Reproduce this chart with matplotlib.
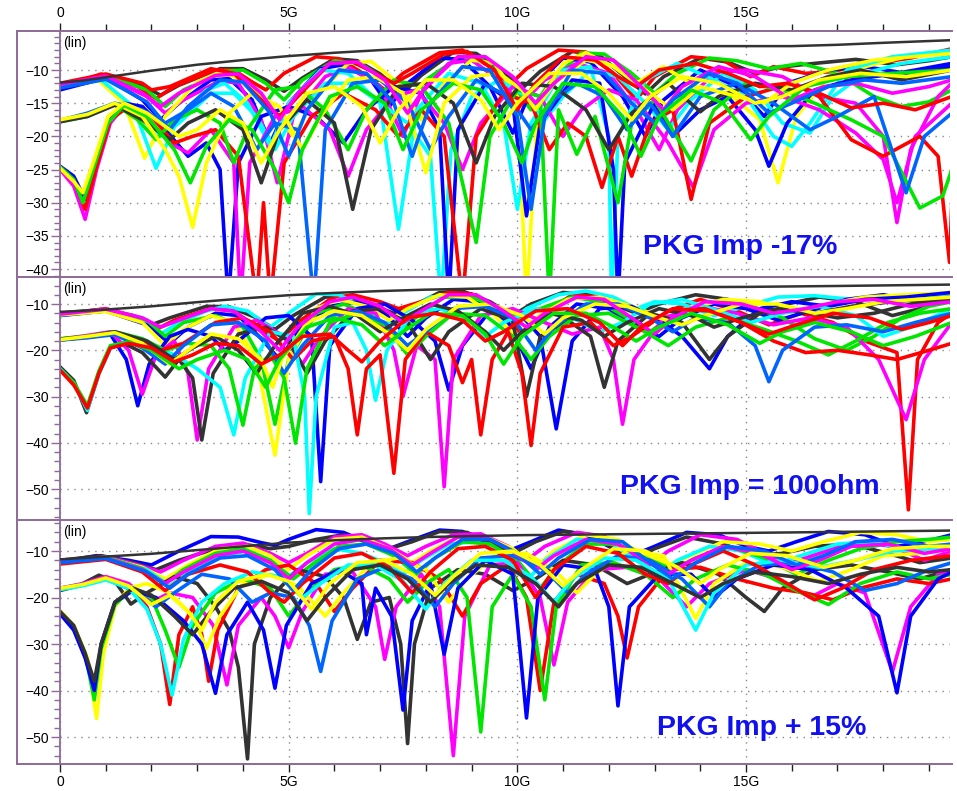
import matplotlib
matplotlib.use('Agg')
import matplotlib.pyplot as plt
from matplotlib.ticker import MultipleLocator, FixedLocator, FixedFormatter
from matplotlib.lines import Line2D

plt.rcParams['font.family'] = ['Liberation Sans', 'DejaVu Sans']

# ---------------- data (frequency in GHz, value in dB) ----------------
x_ticks = [0, 5, 10, 15]
x_tick_labels = ['0', '5G', '10G', '15G']
panel_labels = ['PKG Imp -17%', 'PKG Imp = 100ohm', 'PKG Imp + 15%']
B, M, R, G, Y, C, K, L = '#0000FF', '#FF00FF', '#FF0000', '#00E600', '#FFFF00', '#00FFFF', '#333333', '#0064FF'

# ---- top panel: PKG Imp -17% ----
top_envelope = [(0, -11.9), (0.5, -11.6), (1.0, -11.1), (1.5, -10.6), (2, -10.1), (3, -9.2), (4, -8.5),
                (5, -7.9), (6, -7.4), (7, -7.0), (8, -6.7), (9, -6.5), (10, -6.4), (12, -6.4), (14, -6.4),
                (16, -6.4), (17, -6.2), (18, -5.9), (19.5, -5.5)]
top_colors = [K, R, G, B, M, Y, C, C, B, M, R, G, L, K, Y, R, M, L, G, Y]
top_curves = [
    [(0,-12.3),(1.0,-10.8),(1.8,-12.3),(2.2,-13.8),(2.6,-12.3),(3.5,-9.8),(4.0,-9.8),(4.5,-11.5),(4.9,-13.2),(5.3,-11.2),(6.0,-8.3),(6.5,-8.6),(7.0,-10.6),(7.5,-13.5),(7.9,-10.8),(8.6,-7.3),(9.1,-7.5),(9.6,-9.8),(10.1,-12.8),(10.5,-10.2),(11.2,-7.2),(11.8,-7.8),(12.4,-11.3),(12.8,-13.6),(13.2,-11.0),(14.0,-8.2),(14.6,-8.8),(15.2,-10.5),(15.7,-9.6),(16.5,-9.0),(17.4,-8.4),(18.3,-9.2),(19.0,-8.6),(19.5,-8.0)],
    [(0,-12.6),(0.9,-10.6),(1.7,-12.5),(2.1,-14.3),(2.5,-12.5),(3.4,-10.0),(3.8,-10.0),(4.2,-11.8),(4.5,-13.0),(4.9,-10.5),(5.6,-8.0),(6.1,-8.3),(6.7,-10.8),(7.1,-13.0),(7.5,-10.5),(8.3,-7.4),(8.8,-7.0),(9.4,-9.5),(9.8,-12.5),(10.2,-9.8),(10.9,-7.0),(11.5,-7.3),(12.1,-10.5),(12.6,-14.5),(13.0,-11.0),(13.8,-8.0),(14.5,-8.5),(15.1,-11.0),(15.6,-9.5),(16.3,-10.5),(17.0,-10.2),(17.8,-9.0),(18.6,-8.2),(19.5,-6.8)],
    [(0,-12.8),(1.1,-10.9),(1.9,-13.0),(2.3,-15.5),(2.7,-13.0),(3.6,-10.2),(4.0,-10.0),(4.5,-12.0),(4.9,-14.5),(5.3,-11.5),(6.0,-8.6),(6.6,-9.2),(7.2,-11.8),(7.6,-14.5),(8.0,-11.5),(8.7,-8.2),(9.2,-8.3),(9.8,-11.5),(10.3,-16.0),(10.7,-12.0),(11.4,-7.4),(11.9,-7.6),(12.5,-10.5),(13.0,-13.5),(13.5,-10.5),(14.2,-8.2),(14.8,-8.6),(15.5,-9.8),(16.2,-9.0),(17.0,-10.5),(17.8,-14.0),(18.4,-15.5),(19.0,-14.8),(19.5,-13.0)],
    [(0,-13.0),(1.0,-11.2),(1.8,-14.5),(2.2,-17.5),(2.6,-15.0),(3.3,-11.5),(3.7,-11.3),(4.2,-14.5),(4.6,-21.0),(5.0,-15.0),(5.7,-9.8),(6.2,-9.2),(6.8,-11.5),(7.2,-15.5),(7.6,-12.0),(8.3,-8.2),(8.8,-8.4),(9.4,-12.5),(9.9,-19.5),(10.3,-13.0),(11.0,-8.2),(11.6,-8.8),(12.3,-14.0),(12.8,-20.0),(13.2,-14.5),(14.0,-10.0),(14.8,-12.5),(15.4,-17.0),(15.9,-12.0),(16.8,-10.0),(17.6,-9.5),(18.5,-10.5),(19.5,-9.5)],
    [(0,-12.6),(1.0,-11.0),(1.9,-14.0),(2.3,-16.5),(2.7,-14.5),(3.5,-11.6),(3.9,-12.0),(4.4,-17.5),(4.75,-27.0),(5.1,-17.0),(5.8,-11.0),(6.3,-9.5),(7.0,-12.5),(7.5,-20.0),(7.9,-13.5),(8.5,-9.0),(9.0,-8.5),(9.6,-11.5),(10.1,-15.0),(10.6,-11.5),(11.3,-9.0),(12.0,-10.5),(12.6,-16.0),(13.1,-22.0),(13.5,-16.0),(14.3,-10.5),(15.0,-10.0),(15.8,-11.0),(16.6,-14.0),(17.4,-15.0),(18.0,-20.0),(18.3,-33.0),(18.6,-22.0),(19.2,-14.0),(19.5,-12.0)],
    [(0,-12.5),(0.8,-11.3),(1.4,-15.0),(1.85,-23.3),(2.3,-17.0),(3.0,-11.8),(3.5,-10.3),(4.0,-11.5),(4.6,-15.0),(5.1,-20.0),(5.6,-14.0),(6.3,-9.0),(6.8,-8.7),(7.4,-12.0),(7.9,-17.5),(8.4,-12.0),(9.0,-8.5),(9.5,-9.0),(10.0,-14.0),(10.2,-45.0),(10.45,-15.0),(11.0,-9.0),(11.5,-7.4),(12.1,-9.5),(12.6,-12.0),(13.2,-9.5),(13.9,-12.5),(14.6,-13.5),(15.3,-17.5),(15.7,-27.0),(16.1,-17.0),(16.8,-11.0),(17.6,-9.5),(18.5,-8.0),(19.5,-7.3)],
    [(0,-12.4),(0.9,-11.5),(1.6,-15.5),(2.1,-24.8),(2.6,-17.0),(3.2,-13.0),(3.6,-12.0),(4.1,-15.0),(4.6,-21.5),(5.0,-15.0),(5.7,-10.0),(6.3,-10.5),(7.0,-15.0),(7.4,-34.0),(7.8,-16.0),(8.5,-10.5),(9.2,-12.0),(9.7,-18.0),(10.0,-31.0),(10.3,-18.0),(11.0,-10.0),(11.6,-9.5),(12.0,-20.0),(12.06,-45.0),(12.2,-20.0),(12.8,-11.5),(13.5,-9.0),(14.3,-11.5),(15.0,-14.0),(15.6,-20.0),(16.0,-21.5),(16.4,-18.0),(17.2,-10.0),(18.2,-8.0),(19.5,-7.0)],
    [(0,-17.7),(0.6,-16.8),(1.2,-15.0),(1.7,-16.5),(2.2,-20.0),(2.6,-18.0),(3.3,-13.5),(3.8,-13.5),(4.3,-17.0),(4.7,-22.0),(5.1,-17.0),(5.8,-12.0),(6.4,-12.0),(7.0,-15.0),(7.6,-18.0),(8.1,-23.0),(8.33,-45.0),(8.55,-22.0),(9.0,-14.0),(9.6,-11.5),(10.2,-14.0),(10.6,-17.5),(11.0,-14.0),(11.6,-10.0),(12.2,-11.0),(12.8,-15.0),(13.3,-19.0),(13.8,-14.5),(14.5,-10.5),(15.2,-13.0),(15.8,-18.0),(16.4,-19.5),(16.9,-14.0),(17.6,-10.5),(18.4,-9.0),(19.5,-8.0)],
    [(0,-24.5),(0.3,-26.0),(0.55,-29.5),(0.8,-24.0),(1.1,-17.5),(1.4,-15.0),(1.8,-15.5),(2.3,-19.0),(2.8,-23.0),(3.2,-21.0),(3.5,-25.0),(3.68,-45.0),(3.9,-24.0),(4.4,-17.0),(5.0,-15.5),(5.6,-17.0),(6.2,-21.0),(6.7,-16.0),(7.3,-12.5),(7.9,-13.5),(8.3,-19.0),(8.5,-45.0),(8.7,-19.0),(9.3,-12.0),(9.9,-15.0),(10.2,-32.0),(10.5,-18.0),(11.2,-11.5),(11.8,-12.0),(12.1,-25.0),(12.2,-45.0),(12.35,-24.0),(13.0,-15.0),(13.4,-20.0),(14.0,-16.0),(14.6,-14.0),(15.2,-19.0),(15.5,-24.5),(15.9,-18.0),(16.5,-13.0),(17.3,-11.5),(18.3,-10.5),(19.5,-9.0)],
    [(0,-25.0),(0.3,-27.5),(0.55,-32.5),(0.8,-25.0),(1.1,-18.0),(1.4,-15.5),(1.8,-16.5),(2.4,-21.0),(2.8,-22.5),(3.3,-19.0),(3.8,-24.0),(3.95,-45.0),(4.15,-24.0),(4.7,-17.0),(5.3,-15.5),(5.9,-19.0),(6.3,-26.0),(6.7,-19.0),(7.3,-14.0),(7.8,-13.0),(8.4,-18.0),(8.8,-25.0),(9.2,-18.0),(9.9,-12.5),(10.5,-14.0),(11.0,-20.0),(11.4,-16.0),(12.0,-13.0),(12.6,-14.5),(13.3,-21.0),(13.85,-27.7),(14.3,-19.0),(15.0,-15.0),(15.8,-14.0),(16.6,-16.0),(17.4,-19.5),(18.0,-23.5),(18.3,-30.0),(18.7,-20.0),(19.5,-15.0)],
    [(0,-24.8),(0.3,-26.5),(0.55,-31.0),(0.8,-24.5),(1.1,-17.5),(1.5,-15.5),(2.0,-17.0),(2.5,-21.0),(2.9,-20.0),(3.4,-19.0),(3.9,-23.0),(4.3,-45.0),(4.45,-30.0),(4.6,-45.0),(4.9,-24.0),(5.5,-17.0),(6.2,-13.5),(6.9,-16.0),(7.4,-20.0),(7.9,-16.0),(8.4,-20.0),(8.8,-45.0),(9.1,-20.0),(9.7,-13.5),(10.3,-15.0),(10.7,-22.0),(11.1,-18.0),(11.5,-20.0),(11.85,-27.7),(12.2,-20.0),(12.5,-26.0),(12.9,-18.0),(13.4,-16.0),(13.8,-29.5),(14.2,-18.0),(15.0,-14.0),(16.0,-12.0),(16.6,-14.0),(17.3,-20.5),(18.0,-23.0),(18.8,-20.0),(19.2,-23.0),(19.45,-39.0),(19.5,-30.0)],
    [(0,-17.8),(0.6,-17.0),(1.2,-15.2),(1.7,-17.5),(2.1,-20.5),(2.5,-17.5),(3.0,-16.0),(3.5,-18.0),(3.8,-24.0),(4.1,-19.0),(4.7,-13.0),(5.2,-12.5),(5.8,-16.0),(6.3,-22.0),(6.7,-16.0),(7.3,-11.5),(7.9,-12.5),(8.5,-18.0),(9.1,-36.0),(9.4,-20.0),(10.0,-13.0),(10.5,-14.0),(10.7,-45.0),(10.9,-16.0),(11.3,-22.7),(11.7,-17.0),(12.2,-30.0),(12.5,-18.0),(13.0,-14.5),(13.8,-23.7),(14.3,-16.0),(15.0,-12.0),(15.8,-13.0),(16.5,-15.0),(17.3,-17.5),(18.0,-20.0),(18.8,-30.8),(19.3,-29.0),(19.5,-25.0)],
    [(0,-17.6),(0.6,-16.5),(1.2,-15.0),(1.8,-16.0),(2.3,-18.0),(2.8,-16.0),(3.3,-13.5),(3.8,-15.5),(4.3,-22.0),(4.7,-18.0),(5.2,-19.0),(5.55,-45.0),(5.8,-19.0),(6.4,-12.0),(7.0,-11.5),(7.6,-15.0),(8.1,-22.0),(8.5,-17.0),(9.1,-11.5),(9.8,-14.0),(10.3,-19.0),(10.7,-15.0),(11.3,-12.0),(11.9,-14.0),(12.4,-19.0),(12.9,-15.0),(13.4,-20.0),(14.0,-14.0),(14.8,-12.0),(15.6,-15.0),(16.4,-19.0),(17.0,-17.0),(17.8,-14.0),(18.5,-28.5),(18.9,-20.0),(19.5,-16.5)],
    [(0,-17.8),(0.6,-17.0),(1.2,-15.3),(1.8,-17.5),(2.4,-20.5),(2.8,-18.0),(3.4,-16.0),(4.0,-19.0),(4.4,-27.0),(4.8,-19.0),(5.4,-14.5),(6.0,-18.0),(6.4,-31.0),(6.8,-19.0),(7.4,-12.5),(8.0,-12.0),(8.6,-15.0),(9.1,-24.0),(9.5,-17.0),(10.1,-12.0),(10.8,-12.5),(11.5,-16.0),(12.0,-22.0),(12.5,-16.5),(13.3,-12.0),(14.0,-16.3),(14.4,-14.0),(15.2,-12.0),(16.0,-13.0),(16.8,-11.0),(17.5,-10.0),(18.4,-11.5),(19.5,-10.0)],
    [(0,-17.5),(0.6,-16.7),(1.2,-15.0),(1.8,-17.0),(2.3,-22.0),(2.6,-26.0),(2.9,-33.7),(3.2,-24.0),(3.7,-16.5),(4.2,-13.5),(4.8,-15.5),(5.3,-22.0),(5.7,-17.0),(6.3,-11.5),(6.9,-11.0),(7.5,-13.5),(8.0,-25.5),(8.4,-15.0),(9.0,-11.0),(9.6,-10.5),(10.1,-13.0),(10.4,-16.0),(10.8,-12.0),(11.5,-8.5),(12.2,-9.5),(12.8,-13.0),(13.4,-16.0),(14.0,-12.5),(14.8,-14.0),(15.4,-15.0),(16.0,-12.0),(16.8,-10.0),(17.8,-8.5),(19.5,-7.5)],
    [(0,-12.0),(1.0,-10.6),(1.8,-12.0),(2.0,-13.0),(2.4,-12.5),(3.3,-9.8),(3.8,-10.5),(4.4,-14.5),(4.8,-17.0),(5.2,-14.0),(5.9,-9.0),(6.4,-8.8),(6.9,-10.5),(7.3,-12.0),(7.7,-10.5),(8.4,-7.6),(8.9,-7.2),(9.5,-10.0),(10.0,-16.0),(10.4,-12.0),(11.0,-8.0),(11.7,-8.5),(12.2,-11.0),(12.6,-12.5),(13.1,-10.0),(13.9,-9.0),(14.6,-10.5),(15.3,-12.5),(15.9,-12.0),(16.6,-13.5),(17.3,-15.7),(18.0,-15.0),(18.7,-16.0),(19.5,-14.0)],
    [(0,-12.2),(1.0,-10.9),(1.8,-13.5),(2.2,-15.5),(2.6,-13.5),(3.4,-10.8),(3.9,-10.6),(4.4,-13.5),(4.8,-17.5),(5.2,-13.5),(5.9,-9.0),(6.5,-8.8),(7.1,-11.5),(7.6,-16.5),(8.0,-12.5),(8.7,-8.0),(9.3,-8.0),(9.9,-11.0),(10.4,-15.0),(10.8,-12.0),(11.5,-8.0),(12.1,-8.5),(12.7,-12.5),(13.2,-16.0),(13.6,-12.5),(14.4,-9.5),(15.2,-11.0),(16.0,-14.5),(16.7,-12.5),(17.4,-12.0),(18.2,-13.5),(19.0,-12.5),(19.5,-11.5)],
    [(0,-12.7),(1.0,-11.4),(1.9,-14.8),(2.4,-19.0),(2.8,-15.5),(3.5,-11.5),(4.0,-11.8),(4.6,-16.5),(5.0,-23.0),(5.4,-16.0),(6.1,-10.0),(6.7,-10.5),(7.3,-15.0),(7.7,-23.0),(8.1,-15.0),(8.8,-9.5),(9.4,-10.0),(10.0,-17.0),(10.3,-31.0),(10.6,-17.0),(11.2,-10.0),(11.9,-10.5),(12.5,-15.0),(13.0,-18.0),(13.4,-14.5),(14.2,-10.5),(14.8,-12.0),(15.5,-16.5),(16.0,-15.0),(16.8,-12.5),(17.6,-11.5),(18.4,-12.0),(19.5,-11.0)],
    [(0,-24.6),(0.3,-26.5),(0.5,-30.0),(0.75,-24.5),(1.05,-18.0),(1.4,-15.3),(1.9,-17.0),(2.5,-22.0),(2.85,-27.0),(3.2,-21.5),(3.7,-17.5),(4.2,-19.0),(4.7,-25.0),(5.0,-30.0),(5.3,-22.0),(5.9,-14.0),(6.5,-12.5),(7.1,-15.0),(7.5,-22.0),(7.9,-16.0),(8.6,-12.0),(9.2,-13.0),(9.7,-18.0),(10.1,-24.0),(10.4,-18.0),(11.0,-12.0),(11.7,-12.5),(12.3,-17.0),(12.7,-23.0),(13.1,-17.0),(13.8,-13.0),(14.5,-15.0),(15.1,-20.5),(15.5,-17.0),(16.3,-12.5),(17.2,-11.0),(18.2,-10.5),(19.5,-10.0)],
    [(0,-24.8),(0.3,-26.8),(0.5,-28.5),(0.75,-23.5),(1.05,-17.0),(1.4,-15.0),(1.9,-16.5),(2.6,-20.0),(3.0,-19.0),(3.5,-16.0),(4.0,-18.0),(4.4,-24.0),(4.8,-19.0),(5.4,-13.5),(6.0,-12.5),(6.6,-15.5),(7.0,-21.0),(7.4,-16.0),(8.0,-11.5),(8.6,-11.5),(9.2,-14.5),(9.6,-19.0),(10.0,-15.0),(10.7,-10.5),(11.4,-10.5),(12.0,-13.5),(12.5,-17.5),(12.9,-14.0),(13.6,-11.0),(14.4,-12.0),(15.2,-15.0),(15.8,-14.0),(16.6,-11.5),(17.5,-10.5),(18.5,-11.0),(19.5,-10.0)],
]

# ---- middle panel: PKG Imp = 100ohm ----
mid_envelope = [(0, -11.7), (1, -11.2), (2, -10.5), (3, -9.6), (4, -8.8), (5, -8.1), (6, -7.6), (7, -7.2),
                (8, -6.9), (9, -6.7), (10, -6.5), (12, -6.4), (15, -6.3), (17, -6.1), (19.5, -5.8)]
mid_colors = [K, R, C, B, G, Y, B, M, K, C, G, R, L, K, Y, M, G, R]
mid_curves = [
    [(0,-12.0),(0.9,-11.2),(1.6,-12.5),(2.0,-14.5),(2.4,-13.0),(3.2,-10.5),(3.7,-10.6),(4.3,-13.0),(4.7,-15.5),(5.1,-12.5),(5.8,-8.5),(6.3,-8.3),(6.9,-10.5),(7.3,-12.0),(7.7,-10.5),(8.3,-7.5),(8.8,-7.2),(9.4,-9.5),(9.9,-12.5),(10.3,-10.0),(11.0,-7.5),(11.6,-8.0),(12.2,-10.5),(12.6,-12.0),(13.1,-10.0),(13.9,-8.0),(14.6,-9.0),(15.3,-11.5),(15.9,-10.0),(16.6,-8.5),(17.4,-9.5),(18.2,-12.5),(18.8,-11.0),(19.5,-8.5)],
    [(0,-12.3),(1.0,-11.0),(1.7,-12.8),(2.1,-15.5),(2.5,-13.5),(3.3,-11.0),(3.8,-11.5),(4.3,-15.0),(4.8,-18.0),(5.2,-14.0),(5.9,-9.0),(6.4,-8.0),(7.0,-9.5),(7.4,-11.0),(7.9,-9.5),(8.5,-7.5),(9.0,-7.8),(9.6,-11.0),(10.1,-16.5),(10.5,-12.5),(11.2,-8.0),(11.8,-8.5),(12.4,-12.5),(12.8,-15.0),(13.3,-11.5),(14.0,-9.0),(14.8,-11.5),(15.5,-14.5),(16.2,-12.0),(16.9,-14.0),(17.6,-18.0),(18.3,-20.5),(18.55,-54.5),(18.75,-22.0),(19.2,-14.0),(19.5,-12.0)],
    [(0,-12.2),(1.0,-11.3),(1.8,-13.0),(2.2,-16.5),(2.6,-14.0),(3.2,-11.5),(3.6,-10.5),(4.1,-11.5),(4.6,-15.0),(5.0,-12.0),(5.6,-7.8),(6.1,-8.0),(6.7,-11.0),(7.1,-14.5),(7.5,-12.0),(8.1,-8.5),(8.7,-8.0),(9.3,-11.0),(9.8,-14.0),(10.2,-11.0),(10.9,-8.0),(11.5,-7.2),(12.1,-8.5),(12.6,-11.0),(13.0,-9.5),(13.6,-10.0),(14.3,-12.5),(15.0,-10.5),(15.7,-8.5),(16.5,-8.2),(17.3,-9.0),(18.2,-8.5),(19.5,-7.8)],
    [(0,-12.5),(1.0,-11.5),(1.9,-14.5),(2.4,-18.5),(2.8,-15.0),(3.4,-12.0),(3.9,-12.5),(4.4,-17.5),(4.8,-22.0),(5.2,-16.0),(5.9,-10.5),(6.5,-9.5),(7.1,-12.0),(7.6,-17.0),(8.0,-13.0),(8.6,-9.0),(9.2,-9.5),(9.8,-14.0),(10.3,-24.0),(10.7,-15.0),(11.3,-10.0),(12.0,-11.0),(12.6,-15.0),(13.1,-17.0),(13.6,-13.0),(14.3,-10.0),(15.0,-11.0),(15.7,-13.5),(16.4,-11.5),(17.2,-9.0),(18.0,-8.0),(18.8,-9.5),(19.5,-9.0)],
    [(0,-12.4),(1.1,-11.4),(1.9,-13.5),(2.3,-17.0),(2.7,-14.0),(3.4,-12.5),(4.0,-15.0),(4.4,-22.0),(4.7,-36.0),(5.0,-22.0),(5.6,-12.0),(6.2,-10.0),(6.8,-12.5),(7.3,-18.0),(7.7,-13.5),(8.4,-8.5),(9.0,-8.5),(9.6,-11.0),(10.0,-13.0),(10.5,-11.0),(11.2,-8.5),(11.8,-9.5),(12.4,-13.0),(12.9,-16.0),(13.4,-12.5),(14.2,-9.5),(15.0,-10.0),(15.8,-13.0),(16.5,-17.5),(17.2,-20.0),(17.8,-17.0),(18.4,-13.0),(19.0,-10.5),(19.5,-9.5)],
    [(0,-12.3),(1.0,-11.6),(1.8,-14.0),(2.3,-19.0),(2.7,-15.5),(3.3,-12.5),(3.8,-14.0),(4.3,-22.0),(4.7,-42.7),(5.0,-22.0),(5.6,-11.0),(6.1,-9.0),(6.7,-10.5),(7.2,-13.5),(7.6,-11.0),(8.3,-8.0),(8.9,-8.5),(9.5,-12.5),(10.0,-17.0),(10.4,-13.0),(11.1,-9.0),(11.8,-8.5),(12.5,-10.5),(13.2,-13.0),(13.8,-11.0),(14.5,-9.0),(15.3,-9.5),(16.0,-11.5),(16.8,-10.0),(17.6,-8.5),(18.5,-8.0),(19.5,-7.5)],
    [(0,-17.8),(0.6,-17.0),(1.1,-16.5),(1.45,-22.0),(1.7,-32.0),(1.95,-23.0),(2.4,-17.0),(2.8,-15.5),(3.3,-17.0),(3.6,-20.0),(3.9,-18.0),(4.5,-13.0),(5.0,-12.5),(5.5,-17.0),(5.7,-48.4),(5.9,-19.0),(6.5,-11.0),(7.1,-10.0),(7.7,-13.5),(8.2,-18.0),(8.5,-28.6),(8.8,-19.0),(9.4,-11.5),(10.0,-11.5),(10.5,-17.0),(10.85,-37.0),(11.2,-18.0),(11.8,-11.0),(12.5,-10.5),(13.1,-13.5),(13.6,-17.0),(14.2,-24.0),(14.6,-17.0),(15.3,-11.0),(16.0,-9.5),(16.8,-10.5),(17.6,-9.0),(18.5,-8.5),(19.5,-7.5)],
    [(0,-17.6),(0.6,-16.8),(1.1,-16.0),(1.5,-20.0),(1.8,-29.5),(2.1,-21.0),(2.5,-18.0),(2.8,-25.0),(3.0,-39.4),(3.25,-24.0),(3.8,-15.0),(4.3,-13.5),(4.9,-17.0),(5.3,-23.0),(5.7,-17.0),(6.3,-11.0),(6.9,-12.0),(7.3,-20.0),(7.5,-30.0),(7.8,-19.0),(8.2,-22.0),(8.4,-49.5),(8.6,-22.0),(9.2,-12.5),(9.9,-11.0),(10.6,-14.0),(11.2,-16.5),(11.8,-15.0),(12.1,-22.0),(12.3,-36.0),(12.55,-22.0),(13.2,-13.0),(14.0,-10.5),(14.8,-12.0),(15.6,-14.5),(16.4,-13.0),(17.2,-15.0),(17.9,-22.0),(18.5,-35.0),(18.9,-22.0),(19.5,-14.0)],
    [(0,-23.6),(0.3,-26.5),(0.58,-33.5),(0.85,-25.0),(1.1,-19.5),(1.4,-18.5),(1.8,-20.5),(2.3,-25.8),(2.6,-22.0),(2.9,-26.0),(3.1,-39.4),(3.35,-25.0),(3.9,-16.5),(4.5,-15.0),(5.0,-18.0),(5.4,-25.0),(5.8,-18.0),(6.4,-11.5),(7.0,-11.0),(7.6,-14.0),(8.1,-22.0),(8.5,-16.0),(9.2,-11.0),(9.9,-13.5),(10.2,-30.0),(10.5,-17.0),(11.1,-13.5),(11.6,-17.0),(11.9,-28.0),(12.2,-18.0),(12.9,-12.0),(13.6,-14.0),(14.2,-22.0),(14.6,-17.0),(15.3,-12.0),(16.2,-11.5),(17.0,-13.0),(17.8,-12.0),(18.6,-10.0),(19.5,-9.0)],
    [(0,-24.0),(0.3,-27.0),(0.6,-33.0),(0.85,-25.0),(1.1,-19.5),(1.5,-18.0),(2.0,-19.0),(2.5,-21.0),(3.0,-24.0),(3.5,-28.0),(3.8,-38.3),(4.05,-26.0),(4.6,-16.0),(5.1,-17.0),(5.35,-30.0),(5.45,-55.3),(5.6,-30.0),(6.0,-15.0),(6.4,-14.0),(6.7,-20.0),(6.9,-30.8),(7.15,-20.0),(7.7,-12.0),(8.3,-11.0),(8.9,-13.0),(9.3,-17.0),(9.7,-14.0),(10.4,-11.0),(11.1,-12.5),(11.8,-16.0),(12.3,-14.0),(12.9,-10.0),(13.6,-9.0),(14.4,-11.5),(15.1,-14.0),(15.8,-12.0),(16.6,-10.5),(17.4,-12.5),(18.0,-17.0),(18.6,-15.0),(19.5,-11.0)],
    [(0,-17.5),(0.6,-17.0),(1.2,-16.0),(1.8,-17.5),(2.3,-20.0),(2.8,-18.5),(3.3,-19.0),(3.7,-24.0),(4.0,-36.2),(4.25,-24.0),(4.6,-21.0),(4.9,-26.0),(5.15,-40.1),(5.4,-24.0),(5.9,-14.0),(6.5,-12.0),(7.1,-14.5),(7.6,-21.0),(8.0,-17.0),(8.6,-12.0),(9.3,-12.5),(9.9,-17.0),(10.3,-22.0),(10.7,-17.0),(11.3,-12.5),(12.0,-12.0),(12.7,-15.5),(13.3,-19.0),(13.9,-15.0),(14.6,-13.0),(15.4,-15.5),(16.1,-18.0),(16.8,-21.0),(17.4,-18.0),(18.1,-14.0),(18.8,-12.0),(19.5,-11.0)],
    [(0,-17.7),(0.6,-17.2),(1.2,-16.3),(1.8,-18.0),(2.2,-20.0),(2.7,-18.5),(3.4,-14.0),(4.0,-13.0),(4.6,-16.0),(5.1,-22.0),(5.5,-18.0),(6.0,-17.0),(6.3,-24.0),(6.5,-38.3),(6.7,-24.0),(7.0,-21.0),(7.3,-46.6),(7.55,-22.0),(8.0,-16.0),(8.5,-19.0),(8.8,-27.0),(9.0,-22.0),(9.2,-38.3),(9.45,-22.0),(9.8,-16.0),(10.1,-25.0),(10.3,-40.6),(10.5,-25.0),(11.0,-15.0),(11.6,-14.0),(12.1,-19.0),(12.5,-17.0),(13.3,-11.5),(14.1,-11.0),(14.9,-14.0),(15.6,-18.0),(16.3,-20.5),(17.0,-20.0),(17.7,-21.0),(18.3,-22.0),(19.0,-20.0),(19.5,-18.5)],
    [(0,-17.8),(0.6,-17.3),(1.2,-16.6),(1.8,-19.5),(2.3,-23.0),(2.7,-19.0),(3.3,-14.5),(3.9,-14.0),(4.5,-18.0),(4.9,-25.0),(5.3,-19.0),(5.9,-12.5),(6.5,-11.5),(7.1,-14.0),(7.6,-19.0),(8.0,-16.0),(8.6,-11.0),(9.3,-10.5),(9.9,-13.0),(10.4,-20.0),(10.8,-15.0),(11.5,-10.0),(12.2,-10.0),(12.9,-13.0),(13.4,-16.0),(13.9,-13.0),(14.6,-14.0),(15.2,-19.0),(15.5,-26.8),(15.8,-20.0),(16.5,-15.0),(17.2,-14.5),(18.0,-16.0),(18.7,-14.0),(19.5,-12.0)],
    [(0,-17.6),(0.6,-17.0),(1.2,-16.0),(1.9,-18.0),(2.5,-22.0),(2.9,-19.5),(3.4,-17.0),(3.9,-20.0),(4.3,-25.0),(4.7,-19.0),(5.3,-12.0),(5.9,-10.5),(6.5,-12.5),(7.0,-16.0),(7.5,-13.0),(8.1,-10.0),(8.7,-11.5),(9.3,-16.0),(9.7,-20.0),(10.1,-16.0),(10.7,-12.0),(11.4,-13.5),(11.9,-17.0),(12.4,-14.0),(13.1,-11.0),(13.8,-12.5),(14.3,-15.0),(14.9,-13.0),(15.7,-11.0),(16.5,-12.0),(17.3,-10.5),(18.2,-9.5),(19.5,-8.5)],
    [(0,-17.7),(0.6,-17.0),(1.2,-16.2),(1.8,-18.5),(2.4,-23.0),(2.8,-20.0),(3.3,-16.5),(3.9,-17.5),(4.4,-22.0),(4.65,-28.0),(4.85,-22.0),(5.4,-14.0),(6.0,-11.5),(6.6,-12.5),(7.2,-16.5),(7.6,-20.0),(8.0,-15.5),(8.7,-10.5),(9.4,-10.0),(10.1,-12.5),(10.6,-16.5),(11.0,-13.0),(11.7,-10.0),(12.4,-10.5),(13.1,-13.0),(13.6,-14.5),(14.1,-12.5),(14.9,-10.0),(15.7,-10.0),(16.5,-12.0),(17.2,-11.0),(18.0,-9.5),(19.5,-8.5)],
    [(0,-12.2),(1.0,-11.1),(1.8,-13.0),(2.2,-15.0),(2.6,-13.5),(3.3,-11.0),(3.8,-11.5),(4.4,-16.0),(4.8,-20.0),(5.2,-15.0),(5.9,-9.5),(6.4,-8.5),(7.0,-10.5),(7.5,-14.0),(7.9,-11.5),(8.5,-8.0),(9.1,-8.0),(9.7,-11.5),(10.2,-15.0),(10.6,-12.0),(11.3,-8.5),(11.9,-9.0),(12.5,-13.0),(13.0,-16.5),(13.4,-13.0),(14.1,-9.5),(14.9,-10.0),(15.6,-12.0),(16.3,-11.0),(17.0,-9.5),(17.8,-9.0),(18.6,-10.5),(19.5,-9.5)],
    [(0,-24.2),(0.3,-27.0),(0.6,-32.0),(0.85,-24.5),(1.1,-19.0),(1.5,-18.2),(2.0,-20.0),(2.6,-24.0),(3.0,-22.0),(3.6,-20.0),(4.1,-22.0),(4.5,-28.0),(4.8,-22.0),(5.4,-15.0),(6.0,-13.0),(6.6,-14.5),(7.1,-19.0),(7.5,-16.0),(8.1,-12.0),(8.8,-12.5),(9.3,-16.5),(9.7,-23.0),(10.1,-17.0),(10.8,-12.0),(11.5,-12.0),(12.1,-15.0),(12.6,-18.0),(13.1,-15.0),(13.8,-12.0),(14.6,-14.5),(15.3,-18.5),(15.8,-16.0),(16.5,-14.0),(17.3,-16.0),(18.0,-19.0),(18.7,-17.0),(19.5,-14.0)],
    [(0,-24.3),(0.3,-27.5),(0.6,-32.5),(0.85,-25.0),(1.1,-19.5),(1.5,-18.5),(2.0,-19.5),(2.5,-22.5),(2.9,-21.0),(3.4,-18.5),(3.9,-19.0),(4.4,-23.0),(4.8,-21.0),(5.3,-17.0),(5.9,-16.5),(6.3,-20.0),(6.6,-22.5),(7.0,-18.0),(7.6,-13.0),(8.2,-12.0),(8.8,-13.5),(9.3,-18.0),(9.7,-16.0),(10.4,-11.5),(11.1,-11.0),(11.8,-14.0),(12.3,-19.0),(12.7,-15.0),(13.4,-11.0),(14.2,-11.5),(14.9,-14.0),(15.5,-16.5),(16.1,-14.5),(16.9,-12.0),(17.7,-13.0),(18.4,-15.5),(19.0,-14.0),(19.5,-12.5)],
]

# ---- bottom panel: PKG Imp + 15% ----
bot_envelope = [(0, -11.8), (1, -11.2), (2, -10.6), (3, -9.8), (4, -9.0), (5, -8.2), (6, -7.7), (7, -7.3),
                (8, -7.0), (9, -6.8), (10, -6.6), (13, -6.3), (16, -6.0), (19.5, -5.6)]
bot_colors = [B, K, M, Y, C, G, K, M, R, Y, G, B, L, C, R, M, K, L, Y]
bot_curves = [
    [(0,-12.3),(0.8,-11.0),(1.5,-12.0),(2.0,-13.0),(2.6,-10.0),(3.3,-6.9),(3.9,-7.0),(4.4,-8.2),(4.7,-8.8),(5.0,-7.5),(5.6,-5.4),(6.2,-6.0),(6.8,-8.5),(7.2,-9.5),(7.6,-8.0),(8.3,-5.5),(8.8,-5.8),(9.4,-8.5),(9.8,-10.0),(10.3,-8.0),(10.9,-5.5),(11.5,-6.5),(12.1,-9.5),(12.5,-11.0),(13.0,-9.0),(13.7,-6.0),(14.4,-6.5),(15.0,-9.0),(15.5,-10.0),(16.1,-8.0),(16.8,-5.8),(17.6,-6.5),(18.3,-9.0),(18.9,-8.0),(19.5,-6.5)],
    [(0,-12.0),(0.9,-11.0),(1.6,-12.5),(2.1,-14.0),(2.6,-12.0),(3.4,-9.5),(4.0,-8.5),(4.6,-9.5),(5.0,-9.0),(5.6,-7.5),(6.2,-6.5),(6.7,-8.0),(7.2,-9.5),(7.7,-8.0),(8.3,-5.8),(8.9,-6.0),(9.4,-8.0),(9.9,-10.5),(10.4,-8.0),(11.0,-5.8),(11.6,-6.5),(12.2,-10.0),(12.6,-11.5),(13.0,-9.5),(13.7,-7.0),(14.5,-8.5),(15.2,-11.0),(15.8,-10.5),(16.5,-9.0),(17.3,-8.5),(18.1,-10.5),(18.8,-12.5),(19.5,-11.5)],
    [(0,-12.4),(1.0,-11.2),(1.7,-13.0),(2.2,-14.5),(2.7,-12.0),(3.4,-9.0),(4.0,-8.3),(4.6,-10.5),(5.0,-12.5),(5.4,-10.5),(6.0,-7.0),(6.6,-6.5),(7.1,-8.5),(7.6,-11.0),(8.0,-9.0),(8.6,-6.5),(9.2,-6.3),(9.8,-9.0),(10.2,-12.0),(10.6,-9.0),(11.3,-6.0),(11.9,-6.8),(12.5,-11.0),(12.9,-13.0),(13.3,-10.0),(14.0,-6.5),(14.8,-7.5),(15.5,-11.0),(16.0,-12.5),(16.6,-10.5),(17.4,-8.0),(18.2,-9.0),(18.9,-12.0),(19.5,-10.0)],
    [(0,-12.6),(1.0,-11.5),(1.8,-13.5),(2.3,-16.0),(2.8,-13.0),(3.5,-9.5),(4.1,-9.0),(4.6,-11.0),(5.0,-14.0),(5.4,-11.0),(6.0,-7.5),(6.6,-7.0),(7.2,-9.5),(7.7,-12.5),(8.1,-10.0),(8.7,-7.0),(9.3,-7.0),(9.9,-9.5),(10.4,-13.5),(10.8,-10.0),(11.5,-6.5),(12.2,-7.5),(12.8,-11.0),(13.3,-13.0),(13.8,-11.0),(14.5,-8.0),(15.3,-8.5),(16.0,-10.0),(16.7,-8.0),(17.5,-6.0),(18.3,-6.5),(19.0,-8.0),(19.5,-7.5)],
    [(0,-12.3),(1.0,-11.4),(1.9,-14.0),(2.4,-17.5),(2.8,-14.5),(3.5,-11.0),(4.1,-10.0),(4.6,-12.0),(5.0,-15.5),(5.4,-12.5),(6.0,-9.5),(6.6,-10.5),(7.1,-12.5),(7.5,-15.0),(7.9,-12.0),(8.5,-8.5),(9.1,-8.0),(9.7,-11.0),(10.2,-16.5),(10.6,-12.0),(11.3,-7.5),(12.0,-8.0),(12.6,-12.0),(13.1,-15.0),(13.5,-12.0),(14.2,-9.0),(14.9,-10.0),(15.6,-13.0),(16.2,-11.0),(17.0,-8.5),(17.8,-8.0),(18.6,-10.0),(19.5,-9.0)],
    [(0,-12.5),(1.0,-11.3),(1.8,-13.8),(2.3,-17.0),(2.7,-14.0),(3.4,-10.5),(4.0,-9.5),(4.6,-12.0),(5.1,-16.0),(5.5,-13.0),(6.1,-9.0),(6.7,-8.5),(7.3,-11.0),(7.8,-15.0),(8.2,-11.5),(8.8,-8.0),(9.4,-8.5),(10.0,-12.0),(10.5,-18.0),(10.9,-13.0),(11.5,-8.5),(12.2,-8.5),(12.8,-11.5),(13.4,-14.0),(13.9,-11.5),(14.6,-9.0),(15.4,-11.5),(16.1,-15.0),(16.8,-12.0),(17.5,-9.5),(18.3,-8.0),(19.0,-7.5),(19.5,-7.0)],
    [(0,-18.5),(0.4,-17.5),(0.85,-15.2),(1.2,-16.5),(1.55,-21.4),(1.9,-19.0),(2.5,-15.5),(3.0,-17.0),(3.4,-22.0),(3.7,-27.0),(3.9,-35.0),(4.1,-54.7),(4.25,-30.0),(4.6,-20.0),(5.2,-14.0),(5.8,-15.5),(6.2,-20.0),(6.5,-29.0),(6.8,-21.0),(7.2,-20.0),(7.45,-30.0),(7.6,-51.4),(7.75,-30.0),(8.1,-18.0),(8.7,-14.0),(9.3,-15.0),(9.9,-18.5),(10.4,-16.0),(11.0,-12.0),(11.7,-13.0),(12.4,-17.0),(12.9,-15.0),(13.6,-12.5),(14.4,-15.0),(15.0,-20.0),(15.4,-23.0),(15.8,-18.0),(16.5,-14.0),(17.3,-13.0),(18.1,-14.5),(18.8,-16.0),(19.5,-14.0)],
    [(0,-18.0),(0.5,-17.0),(1.0,-15.5),(1.5,-17.0),(2.0,-21.0),(2.4,-19.0),(2.9,-20.0),(3.35,-26.0),(3.65,-38.8),(3.9,-26.0),(4.4,-20.0),(4.7,-24.0),(5.0,-30.8),(5.3,-23.0),(5.8,-15.0),(6.4,-14.5),(6.9,-22.0),(7.1,-33.3),(7.35,-22.0),(7.9,-15.0),(8.3,-22.0),(8.6,-54.0),(8.85,-24.0),(9.4,-13.0),(10.0,-12.5),(10.5,-20.0),(10.8,-34.5),(11.1,-21.0),(11.7,-14.0),(12.4,-13.5),(13.1,-16.0),(13.7,-22.0),(14.2,-17.0),(15.0,-14.0),(15.7,-16.0),(16.4,-20.0),(17.0,-17.0),(17.6,-19.0),(18.2,-36.0),(18.6,-22.0),(19.2,-15.0),(19.5,-14.0)],
    [(0,-18.2),(0.5,-17.3),(1.0,-15.8),(1.5,-17.5),(1.9,-22.0),(2.2,-30.0),(2.4,-43.0),(2.6,-28.0),(2.9,-22.0),(3.1,-28.0),(3.25,-38.0),(3.45,-27.0),(3.9,-18.0),(4.5,-14.0),(5.0,-13.0),(5.6,-17.0),(6.0,-23.0),(6.4,-18.0),(7.0,-12.0),(7.7,-12.5),(8.3,-16.0),(8.8,-24.0),(9.2,-17.0),(9.8,-13.0),(10.2,-20.0),(10.5,-40.0),(10.8,-21.0),(11.3,-15.0),(11.9,-17.0),(12.2,-24.0),(12.4,-33.0),(12.65,-22.0),(13.3,-14.0),(14.0,-13.5),(14.8,-16.0),(15.6,-18.0),(16.3,-19.0),(16.9,-20.5),(17.5,-18.0),(18.3,-16.0),(19.0,-17.0),(19.5,-16.0)],
    [(0,-22.8),(0.3,-26.0),(0.6,-33.0),(0.8,-46.0),(0.95,-32.0),(1.2,-22.0),(1.5,-18.0),(1.9,-17.0),(2.4,-19.0),(2.9,-24.0),(3.2,-31.0),(3.5,-24.0),(4.0,-17.0),(4.6,-15.0),(5.2,-17.5),(5.8,-24.0),(6.2,-19.0),(6.8,-12.5),(7.4,-11.5),(8.0,-14.0),(8.5,-21.0),(8.9,-16.0),(9.5,-11.0),(10.2,-10.5),(10.8,-14.0),(11.3,-19.0),(11.7,-15.0),(12.4,-10.0),(13.2,-11.0),(13.9,-24.5),(14.3,-17.0),(15.0,-12.5),(15.8,-13.5),(16.6,-16.5),(17.3,-14.0),(18.0,-11.0),(18.8,-10.5),(19.5,-9.5)],
    [(0,-23.2),(0.3,-26.5),(0.55,-32.0),(0.75,-42.0),(0.9,-31.0),(1.2,-21.5),(1.6,-18.0),(2.0,-20.0),(2.3,-27.0),(2.6,-35.0),(2.9,-26.0),(3.4,-19.0),(4.0,-16.0),(4.6,-18.0),(5.0,-24.0),(5.4,-19.0),(6.0,-14.0),(6.6,-13.0),(7.2,-16.0),(7.6,-21.0),(8.0,-17.0),(8.5,-14.0),(8.9,-20.0),(9.2,-48.9),(9.45,-22.0),(9.9,-15.0),(10.3,-22.0),(10.6,-42.0),(10.85,-22.0),(11.4,-13.0),(12.1,-12.5),(12.8,-15.0),(13.4,-20.0),(13.9,-16.0),(14.6,-13.0),(15.4,-15.0),(16.1,-18.5),(16.8,-21.5),(17.5,-17.0),(18.3,-14.5),(19.0,-16.0),(19.5,-15.0)],
    [(0,-23.5),(0.3,-27.0),(0.55,-33.0),(0.75,-40.0),(0.9,-30.0),(1.2,-21.0),(1.6,-18.5),(2.1,-20.0),(2.7,-25.0),(3.1,-30.0),(3.4,-40.6),(3.65,-28.0),(4.1,-21.0),(4.45,-27.0),(4.7,-39.5),(4.95,-26.0),(5.5,-17.0),(6.1,-14.0),(6.6,-17.0),(6.7,-28.0),(6.9,-18.0),(7.25,-24.0),(7.5,-44.2),(7.7,-25.0),(8.1,-17.0),(8.4,-32.2),(8.7,-18.0),(9.3,-12.0),(9.9,-15.0),(10.2,-45.9),(10.45,-20.0),(11.0,-13.0),(11.7,-14.0),(12.0,-22.0),(12.2,-43.3),(12.45,-22.0),(13.1,-15.0),(13.8,-15.0),(14.3,-20.0),(14.8,-16.0),(15.6,-13.0),(16.4,-14.0),(17.2,-18.0),(17.9,-24.0),(18.3,-40.5),(18.6,-24.0),(19.2,-16.0),(19.5,-14.5)],
    [(0,-18.0),(0.5,-17.2),(1.0,-16.0),(1.6,-18.5),(2.1,-22.0),(2.5,-19.0),(3.1,-15.0),(3.7,-16.0),(4.2,-21.0),(4.6,-19.0),(5.1,-20.0),(5.45,-26.0),(5.7,-35.9),(5.95,-25.0),(6.5,-16.0),(7.1,-13.5),(7.7,-16.0),(8.2,-22.0),(8.6,-17.0),(9.2,-11.5),(9.9,-11.0),(10.6,-14.0),(11.1,-19.0),(11.5,-15.0),(12.2,-11.0),(12.9,-12.0),(13.6,-16.0),(14.2,-22.0),(14.6,-17.0),(15.3,-13.0),(16.1,-12.5),(16.9,-14.5),(17.6,-18.5),(18.3,-17.0),(19.0,-14.0),(19.5,-12.5)],
    [(0,-18.3),(0.5,-17.5),(1.0,-16.2),(1.5,-18.0),(1.9,-22.5),(2.2,-30.0),(2.45,-41.0),(2.7,-29.0),(3.1,-21.0),(3.6,-17.0),(4.2,-14.5),(4.8,-15.5),(5.3,-20.0),(5.7,-17.0),(6.3,-13.0),(6.9,-13.0),(7.5,-16.5),(8.0,-22.5),(8.4,-17.0),(9.0,-12.0),(9.7,-12.0),(10.3,-15.5),(10.8,-21.0),(11.2,-16.0),(11.9,-11.5),(12.6,-12.0),(13.3,-16.0),(13.9,-27.0),(14.3,-19.0),(15.0,-13.0),(15.8,-12.0),(16.6,-13.5),(17.4,-12.0),(18.2,-10.0),(19.0,-9.5),(19.5,-9.0)],
    [(0,-12.8),(1.0,-11.8),(1.8,-14.5),(2.3,-18.5),(2.8,-15.0),(3.5,-13.0),(4.1,-14.5),(4.6,-19.0),(4.9,-21.0),(5.3,-17.0),(6.0,-11.5),(6.6,-10.5),(7.2,-13.5),(7.7,-19.0),(8.1,-14.5),(8.7,-9.5),(9.3,-9.0),(9.9,-12.0),(10.4,-20.0),(10.8,-14.0),(11.5,-9.0),(12.2,-10.5),(12.8,-15.0),(13.3,-17.0),(13.8,-13.0),(14.5,-10.0),(15.2,-13.0),(15.9,-17.0),(16.5,-20.5),(17.1,-18.0),(17.8,-14.0),(18.6,-12.0),(19.5,-11.0)],
    [(0,-12.4),(1.0,-11.5),(1.8,-14.0),(2.3,-17.0),(2.7,-14.5),(3.4,-11.0),(4.0,-10.0),(4.6,-12.5),(5.0,-16.0),(5.4,-12.5),(6.0,-8.5),(6.6,-7.5),(7.2,-9.5),(7.7,-13.0),(8.1,-10.5),(8.7,-7.0),(9.3,-7.0),(9.9,-10.0),(10.4,-14.0),(10.8,-11.0),(11.5,-7.5),(12.2,-8.5),(12.8,-12.0),(13.3,-15.0),(13.8,-12.0),(14.5,-9.0),(15.3,-10.5),(16.0,-14.0),(16.6,-12.0),(17.3,-9.0),(18.1,-8.5),(18.9,-10.5),(19.5,-9.5)],
    [(0,-23.0),(0.3,-26.0),(0.55,-32.0),(0.75,-38.0),(0.9,-30.0),(1.2,-21.0),(1.6,-18.0),(2.0,-19.5),(2.5,-24.0),(2.9,-28.0),(3.3,-23.0),(3.8,-18.0),(4.4,-16.5),(5.0,-19.0),(5.4,-25.0),(5.8,-20.0),(6.4,-14.0),(7.0,-13.0),(7.6,-16.0),(8.1,-21.0),(8.5,-17.0),(9.1,-13.0),(9.8,-13.5),(10.4,-17.0),(10.9,-22.0),(11.3,-17.0),(12.0,-13.0),(12.7,-13.5),(13.4,-17.0),(14.0,-20.0),(14.5,-17.0),(15.2,-14.5),(16.0,-15.5),(16.8,-17.0),(17.5,-15.0),(18.3,-13.5),(19.0,-14.5),(19.5,-14.0)],
    [(0,-12.5),(1.0,-11.6),(1.9,-14.5),(2.4,-18.0),(2.8,-15.0),(3.5,-11.5),(4.1,-11.0),(4.7,-14.0),(5.1,-18.5),(5.5,-14.0),(6.1,-9.5),(6.7,-8.5),(7.3,-10.5),(7.8,-14.5),(8.2,-11.5),(8.8,-7.5),(9.4,-7.5),(10.0,-10.5),(10.5,-15.0),(10.9,-11.5),(11.6,-7.5),(12.3,-8.0),(12.9,-12.5),(13.4,-16.0),(13.9,-12.5),(14.6,-9.0),(15.4,-10.0),(16.1,-13.0),(16.7,-11.0),(17.4,-8.0),(18.2,-7.5),(19.0,-9.0),(19.5,-8.5)],
    [(0,-18.0),(0.5,-17.2),(1.0,-15.8),(1.5,-17.5),(2.0,-21.5),(2.4,-19.5),(2.8,-23.0),(3.1,-27.0),(3.4,-21.0),(3.9,-16.5),(4.5,-15.0),(5.0,-16.5),(5.5,-22.5),(5.9,-17.0),(6.5,-12.5),(7.1,-12.0),(7.7,-15.0),(8.2,-19.5),(8.6,-15.5),(9.2,-10.5),(9.9,-10.0),(10.5,-13.0),(11.0,-17.5),(11.4,-14.0),(12.1,-9.5),(12.8,-10.0),(13.5,-13.5),(14.0,-17.0),(14.4,-14.0),(15.1,-10.5),(15.9,-11.0),(16.7,-13.5),(17.4,-12.0),(18.2,-9.5),(19.0,-9.0),(19.5,-9.0)],
]

# ---------------- layout ----------------
W, H = 957, 791
FRAME = '#8E6A98'
x_left, x_right, x_frame = 60, 950, 17
rows = [(31, 277), (277, 520), (520, 764)]
ylims = [(-41.2, -4.12), (-56.7, -4.16), (-55.8, -3.33)]
y_major = [list(range(-40, -9, 5)), list(range(-50, -9, 10)), list(range(-50, -9, 10))]
y_minor = [1, 2, 2]
label_pos = [(0.764, 0.122), (0.775, 0.136), (0.788, 0.148)]

panels = [(top_envelope, top_colors, top_curves),
          (mid_envelope, mid_colors, mid_curves),
          (bot_envelope, bot_colors, bot_curves)]

fig = plt.figure(figsize=(W / 100, H / 100), dpi=100)
fig.patch.set_facecolor('white')

for i, ((y0, y1), (env, cols, curves)) in enumerate(zip(rows, panels)):
    ax = fig.add_axes([x_left / W, 1 - y1 / H, (x_right - x_left) / W, (y1 - y0) / H])
    ax.set_xlim(0, 19.46)
    ax.set_ylim(*ylims[i])
    for c, pts in zip(cols, curves):
        fx, fy = zip(*pts)
        ax.plot(fx, fy, color=c, lw=2.6, solid_joinstyle='round', zorder=2, clip_on=True)
    ex, ey = zip(*env)
    ax.plot(ex, ey, color='#333333', lw=1.8, zorder=3)

    for s in ['top', 'bottom', 'right']:
        ax.spines[s].set_visible(False)
    ax.spines['left'].set_color(FRAME)
    ax.spines['left'].set_linewidth(1.3)

    ax.yaxis.set_major_locator(FixedLocator(y_major[i]))
    ax.yaxis.set_minor_locator(MultipleLocator(y_minor[i]))
    ax.tick_params(axis='y', which='major', direction='out', length=6.5, width=1, color=FRAME,
                   labelsize=10, pad=1.5, labelcolor='black')
    ax.tick_params(axis='y', which='minor', direction='out', length=4, width=1, color=FRAME)

    ax.xaxis.set_major_locator(FixedLocator(x_ticks))
    ax.xaxis.set_major_formatter(FixedFormatter(x_tick_labels))
    ax.xaxis.set_minor_locator(MultipleLocator(1))
    if i == 0:
        ax.xaxis.set_ticks_position('top')
        ax.xaxis.set_label_position('top')
        ax.tick_params(axis='x', which='both', top=True, bottom=False, labeltop=True, labelbottom=False)
    elif i == 2:
        ax.tick_params(axis='x', which='both', top=False, bottom=True, labeltop=False, labelbottom=True)
    else:
        ax.tick_params(axis='x', which='both', top=False, bottom=False, labeltop=False, labelbottom=False)
    ax.tick_params(axis='x', which='major', direction='out', length=6, width=1, color='#222222',
                   labelsize=10, pad=2)
    ax.tick_params(axis='x', which='minor', direction='out', length=5, width=1, color='#222222')

    ax.grid(True, which='major', color='#888888', linestyle=(0, (1, 4)), linewidth=1.0)
    ax.set_axisbelow(True)

    ax.text(0.003, 1 - 12 / (y1 - y0), '(lin)', transform=ax.transAxes, fontsize=10,
            ha='left', va='center', color='black', zorder=5)
    ax.text(label_pos[i][0], label_pos[i][1], panel_labels[i], transform=ax.transAxes,
            fontsize=20.5, fontweight='bold', color='#1010F0', ha='center', va='center', zorder=6)

# outer frame
for yy in [31, 277, 520, 764]:
    fig.add_artist(Line2D([x_frame / W, 952 / W], [1 - yy / H, 1 - yy / H], color=FRAME, lw=1.4))
fig.add_artist(Line2D([x_frame / W, x_frame / W], [1 - 31 / H, 1 - 764 / H], color=FRAME, lw=1.4))

fig.savefig('out.png', dpi=100)
